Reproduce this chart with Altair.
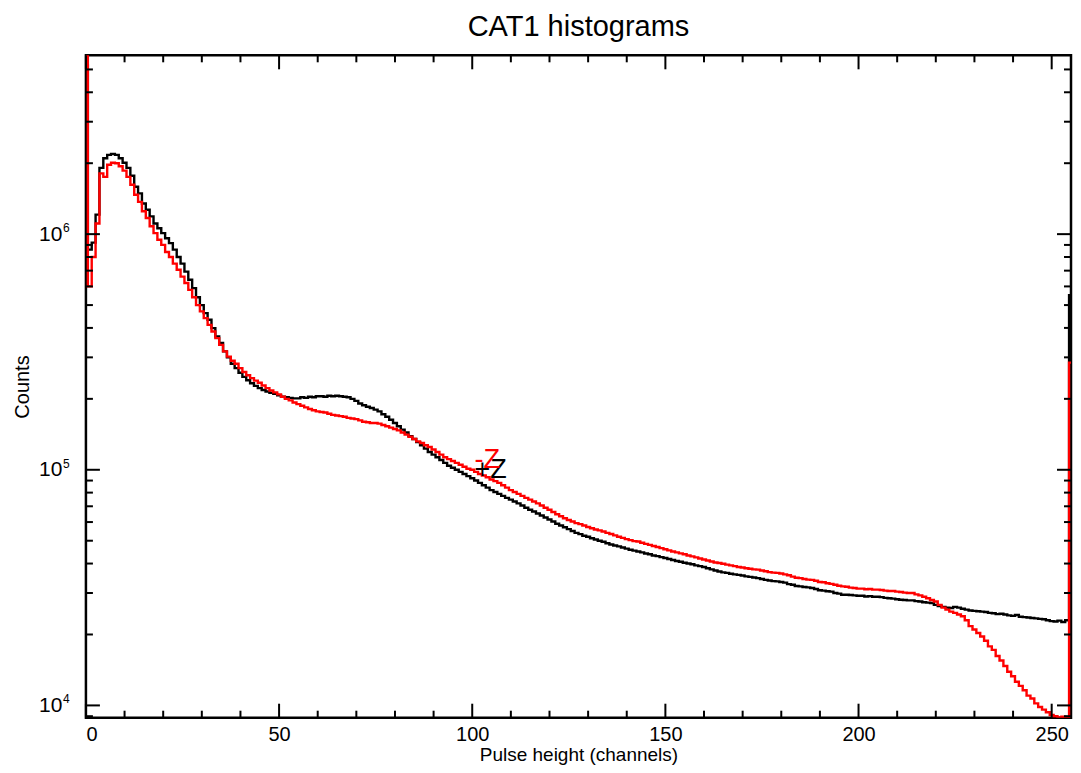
import altair as alt
import pandas as pd

channels = list(range(256))

plus_z = [
    5.2e6, 8.6e5, 9.2e5, 1.21e6, 1.91e6, 2.10e6, 2.17e6, 2.19e6, 2.17e6, 2.10e6,
    2.01e6, 1.91e6, 1.77e6, 1.59e6, 1.49e6, 1.35e6, 1.27e6, 1.19e6, 1.11e6, 1.06e6,
    1.01e6, 9.6e5, 9.16e5, 8.6e5, 8.0e5, 7.5e5, 6.93e5, 6.4e5, 5.9e5, 5.4e5,
    5.0e5, 4.62e5, 4.33e5, 3.99e5, 3.68e5, 3.45e5, 3.18e5, 3.0e5, 2.82e5, 2.70e5,
    2.58e5, 2.48e5, 2.40e5, 2.33e5, 2.27e5, 2.22e5, 2.18e5, 2.15e5, 2.12e5, 2.10e5,
    2.07e5, 2.04e5, 2.03e5, 2.02e5, 2.01e5, 2.01e5, 2.03e5, 2.02e5, 2.04e5, 2.03e5,
    2.05e5, 2.05e5, 2.04e5, 2.06e5, 2.05e5, 2.06e5, 2.05e5, 2.04e5, 2.03e5, 2.0e5,
    1.96e5, 1.91e5, 1.88e5, 1.85e5, 1.83e5, 1.80e5, 1.77e5, 1.72e5, 1.68e5, 1.63e5,
    1.58e5, 1.53e5, 1.48e5, 1.44e5, 1.39e5, 1.35e5, 1.31e5, 1.27e5, 1.23e5, 1.19e5,
    1.16e5, 1.13e5, 1.10e5, 1.07e5, 1.04e5, 1.02e5, 1.0e5, 9.8e4, 9.6e4, 9.4e4,
    9.2e4, 9.0e4, 8.8e4, 8.6e4, 8.4e4, 8.2e4, 8.05e4, 7.9e4, 7.75e4, 7.6e4,
    7.47e4, 7.33e4, 7.2e4, 7.05e4, 6.9e4, 6.77e4, 6.65e4, 6.52e4, 6.4e4, 6.27e4,
    6.15e4, 6.03e4, 5.9e4, 5.8e4, 5.7e4, 5.6e4, 5.5e4, 5.4e4, 5.33e4, 5.25e4,
    5.2e4, 5.12e4, 5.06e4, 5.0e4, 4.95e4, 4.88e4, 4.82e4, 4.77e4, 4.73e4, 4.68e4,
    4.63e4, 4.58e4, 4.54e4, 4.5e4, 4.46e4, 4.41e4, 4.38e4, 4.33e4, 4.3e4, 4.26e4,
    4.22e4, 4.18e4, 4.14e4, 4.1e4, 4.07e4, 4.03e4, 4.0e4, 3.97e4, 3.93e4, 3.9e4,
    3.87e4, 3.82e4, 3.78e4, 3.74e4, 3.7e4, 3.67e4, 3.65e4, 3.62e4, 3.6e4, 3.58e4,
    3.56e4, 3.53e4, 3.51e4, 3.49e4, 3.47e4, 3.44e4, 3.41e4, 3.39e4, 3.37e4, 3.36e4,
    3.34e4, 3.32e4, 3.27e4, 3.25e4, 3.21e4, 3.2e4, 3.18e4, 3.17e4, 3.15e4, 3.12e4,
    3.08e4, 3.07e4, 3.05e4, 3.04e4, 3.0e4, 2.98e4, 2.95e4, 2.95e4, 2.94e4, 2.93e4,
    2.92e4, 2.92e4, 2.9e4, 2.91e4, 2.89e4, 2.89e4, 2.88e4, 2.86e4, 2.85e4, 2.84e4,
    2.82e4, 2.81e4, 2.8e4, 2.79e4, 2.79e4, 2.77e4, 2.76e4, 2.74e4, 2.73e4, 2.72e4,
    2.67e4, 2.64e4, 2.62e4, 2.6e4, 2.59e4, 2.62e4, 2.6e4, 2.57e4, 2.55e4, 2.53e4,
    2.52e4, 2.51e4, 2.5e4, 2.49e4, 2.47e4, 2.46e4, 2.44e4, 2.45e4, 2.43e4, 2.41e4,
    2.4e4, 2.42e4, 2.38e4, 2.37e4, 2.36e4, 2.35e4, 2.34e4, 2.33e4, 2.32e4, 2.3e4,
    2.28e4, 2.27e4, 2.29e4, 2.26e4, 2.3e4, 5.5e5,
]

minus_z = [
    5.74e6, 6.0e5, 8.0e5, 1.11e6, 1.81e6, 1.75e6, 1.97e6, 2.01e6, 2.0e6, 1.94e6,
    1.86e6, 1.75e6, 1.62e6, 1.47e6, 1.37e6, 1.25e6, 1.17e6, 1.08e6, 1.01e6, 9.46e5,
    9.0e5, 8.4e5, 8.0e5, 7.5e5, 7.06e5, 6.6e5, 6.2e5, 5.8e5, 5.4e5, 5.0e5,
    4.7e5, 4.4e5, 4.12e5, 3.86e5, 3.62e5, 3.39e5, 3.18e5, 3.02e5, 2.9e5, 2.82e5,
    2.7e5, 2.6e5, 2.52e5, 2.45e5, 2.39e5, 2.34e5, 2.28e5, 2.22e5, 2.17e5, 2.13e5,
    2.09e5, 2.04e5, 2.0e5, 1.97e5, 1.93e5, 1.9e5, 1.87e5, 1.84e5, 1.81e5, 1.79e5,
    1.77e5, 1.76e5, 1.75e5, 1.73e5, 1.71e5, 1.7e5, 1.69e5, 1.68e5, 1.66e5, 1.65e5,
    1.64e5, 1.62e5, 1.6e5, 1.59e5, 1.58e5, 1.58e5, 1.57e5, 1.55e5, 1.53e5, 1.51e5,
    1.49e5, 1.47e5, 1.44e5, 1.41e5, 1.38e5, 1.35e5, 1.32e5, 1.3e5, 1.27e5, 1.25e5,
    1.22e5, 1.19e5, 1.16e5, 1.13e5, 1.11e5, 1.09e5, 1.07e5, 1.05e5, 1.03e5, 1.01e5,
    1.0e5, 9.8e4, 9.6e4, 9.45e4, 9.3e4, 9.1e4, 8.95e4, 8.8e4, 8.6e4, 8.4e4,
    8.2e4, 8.05e4, 7.9e4, 7.75e4, 7.6e4, 7.47e4, 7.33e4, 7.2e4, 7.05e4, 6.9e4,
    6.77e4, 6.62e4, 6.48e4, 6.35e4, 6.23e4, 6.12e4, 6.03e4, 5.94e4, 5.88e4, 5.8e4,
    5.72e4, 5.65e4, 5.58e4, 5.53e4, 5.47e4, 5.4e4, 5.34e4, 5.27e4, 5.2e4, 5.14e4,
    5.08e4, 5.03e4, 4.98e4, 4.96e4, 4.9e4, 4.85e4, 4.8e4, 4.75e4, 4.7e4, 4.65e4,
    4.6e4, 4.55e4, 4.5e4, 4.46e4, 4.42e4, 4.38e4, 4.33e4, 4.29e4, 4.25e4, 4.2e4,
    4.16e4, 4.12e4, 4.08e4, 4.04e4, 4.02e4, 3.99e4, 3.96e4, 3.93e4, 3.9e4, 3.87e4,
    3.85e4, 3.82e4, 3.8e4, 3.78e4, 3.77e4, 3.74e4, 3.71e4, 3.68e4, 3.66e4, 3.65e4,
    3.63e4, 3.6e4, 3.57e4, 3.52e4, 3.48e4, 3.47e4, 3.44e4, 3.42e4, 3.41e4, 3.38e4,
    3.34e4, 3.33e4, 3.3e4, 3.28e4, 3.25e4, 3.22e4, 3.2e4, 3.19e4, 3.16e4, 3.15e4,
    3.13e4, 3.13e4, 3.11e4, 3.12e4, 3.1e4, 3.1e4, 3.09e4, 3.07e4, 3.06e4, 3.06e4,
    3.04e4, 3.03e4, 3.01e4, 3.0e4, 3.0e4, 2.96e4, 2.93e4, 2.89e4, 2.85e4, 2.8e4,
    2.76e4, 2.67e4, 2.6e4, 2.55e4, 2.5e4, 2.47e4, 2.43e4, 2.39e4, 2.3e4, 2.17e4,
    2.1e4, 2.03e4, 1.96e4, 1.88e4, 1.78e4, 1.72e4, 1.62e4, 1.55e4, 1.47e4, 1.39e4,
    1.33e4, 1.26e4, 1.21e4, 1.16e4, 1.1e4, 1.07e4, 1.02e4, 9.85e3, 9.6e3, 9.35e3,
    9.1e3, 9.0e3, 8.9e3, 8.95e3, 8.87e3, 2.85e5,
]

x_major = [0, 50, 100, 150, 200, 250]
x_minor = [10, 20, 30, 40, 60, 70, 80, 90, 110, 120, 130, 140,
           160, 170, 180, 190, 210, 220, 230, 240]
y_major = [1e4, 1e5, 1e6]
y_exponents = ["4", "5", "6"]
y_minor = [9e3, 2e4, 3e4, 4e4, 5e4, 6e4, 7e4, 8e4, 9e4,
           2e5, 3e5, 4e5, 5e5, 6e5, 7e5, 8e5, 9e5,
           2e6, 3e6, 4e6, 5e6]

labels = ["+Z", "-Z"]
label_x = [100.6, 100.6]
label_y = [9.2e4, 1.02e5]
label_colors = ["black", "red"]

FONT = "Liberation Sans"
W, H = 986, 663
MAJ, MIN = 14, 7

xscale = alt.Scale(domain=[0, 255], nice=False, zero=False)
yscale = alt.Scale(type="log", domain=[8870, 5.74e6], nice=False)

xaxis = alt.Axis(values=x_major, tickSize=0, domain=False, grid=False,
                 labelFont=FONT, labelFontSize=20, labelColor="black",
                 labelPadding=7, title="Pulse height (channels)",
                 titleFont=FONT, titleFontSize=19, titleFontWeight="normal",
                 titleColor="black", titlePadding=1)
yaxis = alt.Axis(values=y_major, tickSize=0, domain=False, grid=False,
                 labelExpr="'10'",
                 labelFont=FONT, labelFontSize=21, labelColor="black",
                 labelPadding=24, title="Counts",
                 titleFont=FONT, titleFontSize=20, titleFontWeight="normal",
                 titleColor="black", titlePadding=6)

df_p = pd.DataFrame({"channel": channels, "counts": plus_z})
df_m = pd.DataFrame({"channel": channels, "counts": minus_z})

line_p = alt.Chart(df_p).mark_line(
    interpolate="step", strokeWidth=2.4, color="black", clip=True
).encode(
    x=alt.X("channel:Q", scale=xscale, axis=xaxis),
    y=alt.Y("counts:Q", scale=yscale, axis=yaxis),
)

line_m = alt.Chart(df_m).mark_line(
    interpolate="step", strokeWidth=2.4, color="red", clip=True
).encode(
    x=alt.X("channel:Q", scale=xscale, axis=xaxis),
    y=alt.Y("counts:Q", scale=yscale, axis=yaxis),
)


def xticks(vals, length, top):
    d = pd.DataFrame({"channel": vals})
    if top:
        yy, yy2 = alt.value(0), alt.value(length)
    else:
        yy, yy2 = alt.value(H), alt.value(H - length)
    return alt.Chart(d).mark_rule(color="black", strokeWidth=2).encode(
        x=alt.X("channel:Q", scale=xscale, axis=xaxis), y=yy, y2=yy2)


def yticks(vals, length, right):
    d = pd.DataFrame({"counts": vals})
    if right:
        xx, xx2 = alt.value(W), alt.value(W - length)
    else:
        xx, xx2 = alt.value(0), alt.value(length)
    return alt.Chart(d).mark_rule(color="black", strokeWidth=2).encode(
        y=alt.Y("counts:Q", scale=yscale, axis=yaxis), x=xx, x2=xx2)


exps = alt.Chart(pd.DataFrame({"counts": y_major, "e": y_exponents})).mark_text(
    align="left", baseline="middle", font=FONT, fontSize=12, color="black",
    dy=-6, clip=False
).encode(
    y=alt.Y("counts:Q", scale=yscale, axis=yaxis),
    x=alt.value(-23),
    text="e:N",
)

ann = alt.Chart(pd.DataFrame({"channel": label_x, "counts": label_y,
                              "label": labels, "c": label_colors})).mark_text(
    align="left", baseline="alphabetic", font=FONT, fontSize=27
).encode(
    x=alt.X("channel:Q", scale=xscale, axis=xaxis),
    y=alt.Y("counts:Q", scale=yscale, axis=yaxis),
    text="label:N",
    color=alt.Color("c:N", scale=None),
)

chart = alt.layer(
    line_p, line_m,
    xticks(x_major, MAJ, False), xticks(x_minor, MIN, False),
    xticks(x_major, MAJ, True), xticks(x_minor, MIN, True),
    yticks(y_major, MAJ, False), yticks(y_minor, MIN, False),
    yticks(y_major, MAJ, True), yticks(y_minor, MIN, True),
    exps, ann,
).properties(
    width=W, height=H,
    title=alt.TitleParams("CAT1 histograms", font=FONT, fontSize=29,
                          fontWeight="normal", color="black", anchor="middle",
                          frame="group", offset=12),
    autosize=alt.AutoSizeParams(type="none"),
    padding={"left": 78, "top": 47, "right": 2, "bottom": 47},
    background="white",
).configure_view(
    stroke="black", strokeWidth=2.5
)

chart.save("out.html", embed_options={"renderer": "svg", "actions": False})
